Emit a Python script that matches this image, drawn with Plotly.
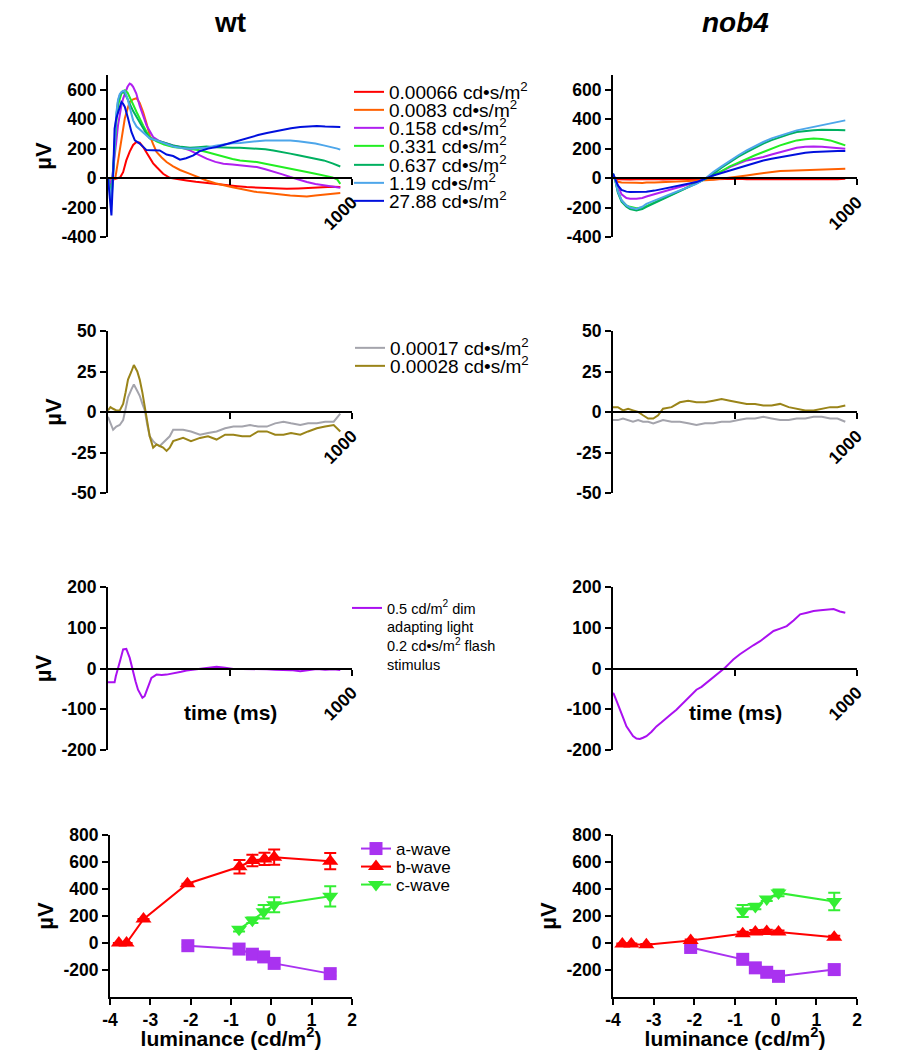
import plotly.graph_objects as go

# The page body adds an 8 px margin, so the figure is drawn 8 px lower/right.
OFF = 8
W, H = 914 - OFF, 1050 - OFF
FONT = "Liberation Sans, Arial, sans-serif"

# ---------------- DATA ----------------
names_top = ["0.00066 cd•s/m<sup>2</sup>", "0.0083 cd•s/m<sup>2</sup>", "0.158 cd•s/m<sup>2</sup>",
             "0.331 cd•s/m<sup>2</sup>", "0.637 cd•s/m<sup>2</sup>", "1.19 cd•s/m<sup>2</sup>",
             "27.88 cd•s/m<sup>2</sup>"]
colors_top = ["#ff0000", "#ff6000", "#b020f0", "#22ee22", "#00b060", "#4da6ea", "#0010dd"]

# wt, top row (time ms, µV)
wt_red_t = [0, 10, 20, 30, 40, 50, 62, 75, 89, 103, 116, 130, 144, 158, 171, 185, 199, 212, 226, 253, 290, 322,
            360, 404, 450, 486, 530, 568, 610, 651, 700, 733, 780, 815, 850, 884, 920, 952]
wt_red_v = [0, -5, -10, -5, 0, 5, 40, 120, 180, 225, 245, 240, 211, 170, 132, 100, 75, 50, 29, 2, -10, -16,
            -25, -34, -42, -50, -55, -61, -64, -68, -72, -73, -70, -66, -62, -57, -58, -61]
wt_org_t = [0, 10, 20, 30, 40, 48, 58, 69, 80, 89, 103, 117, 130, 144, 158, 171, 185, 199, 220, 240, 267, 295,
            336, 370, 404, 440, 473, 510, 541, 580, 610, 645, 678, 715, 747, 780, 815, 850, 884, 920, 952]
wt_org_v = [0, -10, -15, 0, 100, 202, 300, 406, 470, 517, 535, 542, 510, 449, 370, 290, 230, 177, 140, 109, 80, 55,
            29, 5, -16, -35, -50, -62, -73, -85, -95, -100, -107, -112, -118, -122, -125, -118, -111, -105, -102]
wt_pur_t = [0, 8, 14, 20, 27, 34, 41, 48, 55, 62, 69, 80, 89, 96, 103, 116, 130, 144, 158, 171, 185, 212, 240,
            267, 295, 336, 370, 404, 440, 473, 510, 541, 580, 610, 645, 678, 715, 747, 780, 815, 850, 884, 920, 952]
wt_pur_v = [0, -20, -50, 30, 134, 250, 358, 430, 494, 540, 574, 620, 642, 635, 620, 574, 490, 420, 358, 320, 279,
            250, 234, 222, 211, 188, 160, 132, 110, 98, 92, 86, 80, 75, 60, 41, 25, 7, -10, -27, -40, -50, -58, -66]
wt_fast_t = [0, 8, 14, 20, 27, 34, 41, 48, 55, 62, 69, 80, 89, 103, 117, 130, 144, 158, 171, 199, 230, 267, 300,
             336, 370, 404, 440, 473, 510, 541, 580, 610, 645, 678, 715, 747, 780, 815, 850, 884, 920, 940, 952]
wt_grn_v = [0, -60, -150, 20, 222, 380, 494, 540, 574, 590, 597, 580, 552, 500, 449, 400, 358, 315, 279, 250, 228,
            211, 205, 200, 190, 177, 160, 143, 130, 120, 115, 109, 98, 86, 75, 63, 52, 41, 30, 18, 5, -10, -39]
wt_tea_v = [0, -60, -130, 40, 260, 420, 520, 560, 580, 585, 575, 540, 505, 455, 415, 380, 336, 300, 270, 255, 240,
            222, 212, 206, 210, 215, 210, 206, 206, 206, 203, 200, 196, 188, 178, 166, 155, 143, 132, 120, 100, 90, 79]
wt_lbl_v = [0, -80, -180, 30, 280, 440, 530, 570, 585, 592, 590, 540, 480, 392, 350, 330, 313, 290, 270, 256, 235,
            215, 205, 200, 203, 206, 220, 229, 236, 238, 245, 248, 256, 256, 258, 256, 250, 245, 235, 222, 210, 200, 193]
wt_blu_t = [0, 8, 14, 21, 27, 34, 41, 48, 55, 62, 69, 82, 96, 110, 130, 158, 185, 212, 240, 267, 295, 320, 350,
            377, 410, 445, 480, 514, 550, 582, 615, 651, 685, 719, 750, 788, 820, 856, 890, 925, 952]
wt_blu_v = [0, -150, -254, 18, 336, 406, 440, 472, 517, 505, 483, 406, 313, 256, 234, 190, 188, 188, 160, 150, 125,
            135, 154, 184, 200, 211, 228, 245, 262, 279, 292, 306, 318, 329, 338, 347, 352, 354, 350, 347, 347]

# nob4, top row
nb_t = [0, 10, 20, 35, 55, 70, 96, 120, 137, 170, 205, 240, 274, 308, 342, 377, 411, 445, 479, 514, 548, 582, 616,
        650, 685, 720, 753, 788, 822, 856, 890, 920, 952]
nb_red_v = [5, -5, -8, -10, -8, -10, -8, -10, -8, -6, -10, -8, -5, -8, -6, -5, -8, -6, -4, -5, -8, -6, -5, -7, -8,
            -9, -6, -8, -10, -8, -6, -8, -5]
nb_org_v = [10, -10, -25, -30, -32, -30, -32, -33, -30, -30, -28, -25, -25, -20, -18, -15, -11, -5, 2, 10, 18, 26,
            34, 42, 48, 50, 52, 52, 52, 55, 57, 60, 63]
nb_pur_v = [30, -10, -60, -110, -135, -140, -140, -135, -125, -110, -95, -78, -61, -44, -27, -5, 18, 45, 75, 98, 120,
            132, 143, 160, 177, 192, 206, 212, 215, 212, 206, 203, 200]
nb_grn_v = [30, -20, -90, -150, -185, -195, -205, -200, -190, -165, -138, -112, -88, -62, -38, -10, 18, 48, 79, 105,
            132, 155, 177, 200, 222, 240, 256, 263, 268, 265, 256, 240, 222]
nb_tea_v = [30, -20, -100, -160, -195, -210, -220, -210, -195, -170, -140, -115, -90, -62, -35, -5, 29, 70, 109, 145,
            177, 207, 234, 258, 279, 297, 313, 320, 324, 328, 329, 327, 324]
nb_lbl_v = [30, -20, -90, -150, -185, -200, -210, -195, -175, -155, -129, -105, -84, -62, -39, -5, 41, 80, 120, 155,
            188, 218, 245, 270, 290, 308, 324, 336, 347, 360, 370, 380, 392]
nb_blu_v = [30, -10, -50, -80, -92, -95, -95, -95, -93, -85, -73, -62, -50, -38, -27, -5, 18, 35, 52, 70, 86, 103,
            120, 132, 143, 155, 166, 172, 177, 181, 184, 184, 184]

# second row (scotopic)
names_dim = ["0.00017 cd•s/m<sup>2</sup>", "0.00028 cd•s/m<sup>2</sup>"]
colors_dim = ["#a4a4ac", "#9a8419"]
wt_dim_t = [0, 10, 21, 34, 48, 62, 72, 82, 96, 106, 120, 130, 141, 151, 161, 171, 185, 199, 212, 226, 240, 253, 267,
            290, 308, 340, 377, 410, 445, 480, 514, 550, 582, 615, 651, 685, 719, 750, 788, 820, 856, 890, 925, 952]
wt_gry_v = [-3, -7, -11, -9, -8, -5, 2, 9, 14, 17, 13, 10, 5, 1, -8, -15, -18, -20, -21, -19, -17, -15, -11, -11,
            -11, -12, -14, -13, -12, -10, -9, -9, -8, -9, -9, -7, -6, -7, -8, -7, -7, -6, -6, -1]
wt_olv_v = [1, 3, 2, 1, 1, 5, 12, 20, 25, 29, 25, 20, 12, 3, -6, -15, -22, -20, -21, -22, -24, -22, -18, -17, -16,
            -18, -16, -15, -17, -14, -14, -15, -15, -12, -12, -14, -14, -13, -14, -12, -10, -9, -8, -12]
nb_dim_t = [0, 20, 41, 62, 82, 103, 123, 144, 165, 185, 205, 240, 274, 308, 342, 377, 411, 445, 479, 514, 548, 582,
            616, 650, 685, 720, 753, 788, 822, 856, 890, 920, 952]
nb_gry_v = [-5, -5, -4, -5, -6, -5, -6, -6, -7, -6, -5, -6, -6, -7, -8, -7, -7, -6, -6, -5, -4, -4, -3, -4, -5, -5,
            -4, -4, -3, -3, -4, -4, -6]
nb_olv_v = [3, 3, 1, 2, 1, 0, -2, -4, -4, -2, 2, 3, 6, 7, 6, 6, 7, 8, 7, 6, 5, 5, 4, 4, 5, 3, 2, 1, 1, 2, 3, 3, 4]

# third row (light adapted)
name_la = "0.5 cd/m<sup>2</sup> dim<br>adapting light<br>0.2 cd•s/m<sup>2</sup> flash<br>stimulus"
color_la = "#aa10f0"
wt_la_t = [0, 7, 20, 27, 32, 41, 51, 62, 75, 89, 103, 113, 123, 133, 141, 150, 158, 168, 178, 199, 220, 240, 260,
           281, 300, 322, 350, 377, 410, 445, 480, 514, 550, 582, 615, 651, 685, 719, 750, 788, 820, 856, 890, 925, 952]
wt_la_v = [-34, -34, -34, -34, -19, -2, 22, 47, 48, 26, -11, -32, -52, -65, -72, -68, -56, -38, -23, -15, -16, -15,
           -13, -11, -8, -5, -3, 0, 2, 4, 2, -1, -1, -1, -1, -2, -3, -4, -4, -7, -5, -1, -3, -2, -4]
nb_la_t = [0, 3, 15, 27, 41, 55, 68, 82, 96, 110, 123, 137, 158, 178, 199, 219, 240, 260, 281, 301, 322, 342, 363,
           384, 404, 425, 445, 459, 476, 493, 520, 548, 575, 603, 630, 658, 685, 712, 740, 767, 795, 822, 850, 877, 904,
           930, 952]
nb_la_v = [-60, -62, -80, -101, -120, -142, -155, -166, -172, -173, -170, -166, -155, -142, -132, -121, -111, -101,
           -89, -76, -64, -52, -45, -35, -25, -15, -5, 2, 12, 22, 35, 47, 57, 67, 80, 92, 98, 104, 118, 133, 137, 141,
           143, 145, 146, 140, 137]

# bottom row: amplitudes vs log luminance
wave_names = ["a-wave", "b-wave", "c-wave"]
wave_colors = ["#a932f0", "#ff0000", "#33ee33"]
wave_symbols = ["square", "triangle-up", "triangle-down"]

wt_a_x = [-2.07, -0.80, -0.47, -0.19, 0.07, 1.46]
wt_a_y = [-20, -45, -83, -103, -151, -227]
wt_a_e = [10, 15, 15, 15, 15, 15]
wt_b_x = [-3.78, -3.59, -3.17, -2.08, -0.79, -0.47, -0.17, 0.07, 1.46]
wt_b_y = [0, 0, 177, 439, 565, 611, 623, 636, 606]
wt_b_e = [0, 0, 0, 0, 50, 43, 46, 56, 60]
wt_c_x = [-0.80, -0.47, -0.19, 0.07, 1.46]
wt_c_y = [101, 169, 232, 283, 346]
wt_c_e = [15, 20, 50, 55, 75]

nb_a_x = [-2.09, -0.81, -0.50, -0.22, 0.07, 1.44]
nb_a_y = [-33, -121, -184, -217, -247, -197]
nb_a_e = [10, 15, 15, 15, 15, 30]
nb_b_x = [-3.77, -3.55, -3.18, -2.09, -0.81, -0.50, -0.22, 0.07, 1.44]
nb_b_y = [-8, -8, -13, 18, 68, 81, 86, 81, 43]
nb_b_e = [5, 5, 5, 8, 15, 15, 12, 12, 10]
nb_c_x = [-0.81, -0.50, -0.22, 0.07, 1.44]
nb_c_y = [237, 270, 326, 371, 308]
nb_c_e = [45, 20, 15, 25, 65]


# ---------------- LAYOUT HELPERS (screen pixels -> paper) ----------------
def px(x):
    return (x - OFF) / W


def py(y):
    return 1 - (y - OFF) / H


def dom_x(a, b):
    return [px(a), px(b)]


def dom_y(top, bot):
    return [py(bot), py(top)]


rows = [
    dict(top=75, bot=237, rng=[-400, 700], ticks=[-400, -200, 0, 200, 400, 600]),
    dict(top=331, bot=493, rng=[-50, 50], ticks=[-50, -25, 0, 25, 50]),
    dict(top=587, bot=750, rng=[-200, 200], ticks=[-200, -100, 0, 100, 200]),
    dict(top=835, bot=997, rng=[-400, 800], ticks=[-200, 0, 200, 400, 600, 800]),
]
cols = [(108, 352), (613, 857)]

fig = go.Figure()
tickfont = dict(family=FONT, size=17.5, color="black", weight="bold")
axis_common = dict(showline=True, linecolor="black", linewidth=2, ticks="outside", ticklen=6, tickwidth=2,
                   tickcolor="black", showgrid=False, zeroline=False, tickfont=tickfont, automargin=False)

ax = 0
for r, row in enumerate(rows):
    for c, (xa, xb) in enumerate(cols):
        ax += 1
        xk = "xaxis" if ax == 1 else f"xaxis{ax}"
        yk = "yaxis" if ax == 1 else f"yaxis{ax}"
        xid = "x" if ax == 1 else f"x{ax}"
        yid = "y" if ax == 1 else f"y{ax}"
        ydom = dom_y(row["top"], row["bot"])
        if r < 3:
            r0, r1 = row["rng"]
            pos = ydom[0] + (0 - r0) / (r1 - r0) * (ydom[1] - ydom[0])
            fig.layout[xk] = dict(axis_common, domain=dom_x(xa, xb), range=[0, 1000], anchor="free", position=pos,
                                  tickmode="array", tickvals=[500, 1000], ticktext=[" ", "1000"], tickangle=-45)
        else:
            xa2 = 110 if c == 0 else xa
            fig.layout[xk] = dict(axis_common, domain=dom_x(xa2, xb), range=[-4, 2], anchor=yid,
                                  tickmode="array", tickvals=[-4, -3, -2, -1, 0, 1, 2],
                                  ticktext=["-4", "-3", "-2", "-1", "0", "1", "2"],
                                  title=dict(text="luminance (cd/m<sup>2</sup>)", standoff=4,
                                             font=dict(family=FONT, size=21, color="black", weight="bold")))
        ydict = dict(axis_common, domain=ydom, range=row["rng"], anchor=xid, tickmode="array",
                     tickvals=row["ticks"], ticktext=[str(v) for v in row["ticks"]])
        if c == 0 or r == 3:
            ydict["title"] = dict(text="µV", standoff=4,
                                  font=dict(family=FONT, size=22, color="black", weight="bold"))
        fig.layout[yk] = ydict

legend_count = [0]


def new_legend(x_screen, y_screen, size=19, yanchor="middle"):
    legend_count[0] += 1
    n = legend_count[0]
    key = "legend" if n == 1 else f"legend{n}"
    fig.layout[key] = dict(x=px(x_screen), y=py(y_screen), xanchor="left", yanchor=yanchor,
                           bgcolor="rgba(0,0,0,0)", borderwidth=0, valign="top",
                           font=dict(family=FONT, size=size, color="black"), itemwidth=30)
    return key


def line(x, y, color, xid, yid, name=None, leg=None):
    fig.add_trace(go.Scatter(x=x, y=y, mode="lines", line=dict(color=color, width=2), xaxis=xid, yaxis=yid,
                             name=name or "", showlegend=leg is not None, legend=leg or "legend",
                             hoverinfo="skip"))


# row 1
wt_sets = [(wt_red_t, wt_red_v), (wt_org_t, wt_org_v), (wt_pur_t, wt_pur_v), (wt_fast_t, wt_grn_v),
           (wt_fast_t, wt_tea_v), (wt_fast_t, wt_lbl_v), (wt_blu_t, wt_blu_v)]
nb_sets = [nb_red_v, nb_org_v, nb_pur_v, nb_grn_v, nb_tea_v, nb_lbl_v, nb_blu_v]
leg_rows_top = [92, 110, 128, 146, 165, 183, 201]
for i, ((t, v), nv) in enumerate(zip(wt_sets, nb_sets)):
    leg = new_legend(349, leg_rows_top[i])
    line(t, v, colors_top[i], "x", "y", names_top[i], leg)
    line(nb_t, nv, colors_top[i], "x2", "y2")

# row 2
leg_rows_dim = [348, 366]
for i, (wv, nv) in enumerate(zip([wt_gry_v, wt_olv_v], [nb_gry_v, nb_olv_v])):
    leg = new_legend(350, leg_rows_dim[i])
    line(wt_dim_t, wv, colors_dim[i], "x3", "y3", names_dim[i], leg)
    line(nb_dim_t, nv, colors_dim[i], "x4", "y4")

# row 3
leg = new_legend(347, 592, size=14.5, yanchor="top")
line(wt_la_t, wt_la_v, color_la, "x5", "y5", name_la, leg)
line(nb_la_t, nb_la_v, color_la, "x6", "y6")

# row 4
leg_rows_wave = [849, 867, 885]
wt_waves = [(wt_a_x, wt_a_y, wt_a_e), (wt_b_x, wt_b_y, wt_b_e), (wt_c_x, wt_c_y, wt_c_e)]
nb_waves = [(nb_a_x, nb_a_y, nb_a_e), (nb_b_x, nb_b_y, nb_b_e), (nb_c_x, nb_c_y, nb_c_e)]
for i in range(3):
    leg = new_legend(356, leg_rows_wave[i], size=17)
    for (xs, ys, es), xid, yid, show in [(wt_waves[i], "x7", "y7", True), (nb_waves[i], "x8", "y8", False)]:
        fig.add_trace(go.Scatter(
            x=xs, y=ys, mode="lines+markers", name=wave_names[i], xaxis=xid, yaxis=yid,
            line=dict(color=wave_colors[i], width=2),
            marker=dict(symbol=wave_symbols[i], size=13 if i == 0 else 14, color=wave_colors[i]),
            error_y=dict(type="data", array=es, visible=True, color=wave_colors[i], thickness=2, width=6),
            showlegend=show, legend=leg, hoverinfo="skip"))

# titles and inline axis labels
for text, xp in [("wt", 230), ("<i>nob4</i>", 735)]:
    fig.add_annotation(text=text, x=px(xp), y=py(22), xref="paper", yref="paper", showarrow=False,
                       xanchor="center", yanchor="middle",
                       font=dict(family=FONT, size=28, color="black", weight="bold"))
for xp in [230, 735]:
    fig.add_annotation(text="time (ms)", x=px(xp), y=py(712), xref="paper", yref="paper", showarrow=False,
                       xanchor="center", yanchor="middle",
                       font=dict(family=FONT, size=21, color="black", weight="bold"))

fig.update_layout(width=W, height=H, margin=dict(l=0, r=0, t=0, b=0, autoexpand=False), paper_bgcolor="white",
                  plot_bgcolor="white", showlegend=True)

fig.write_html("out.html")
